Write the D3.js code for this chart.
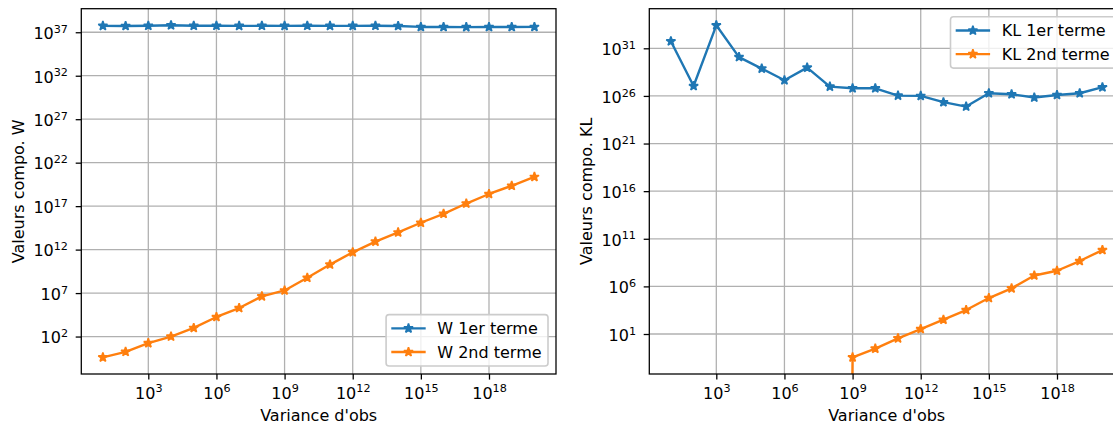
<!DOCTYPE html>
<html><head><meta charset="utf-8">
<script src="https://cdn.jsdelivr.net/npm/d3@7"></script>
<style>
body{margin:0;overflow:hidden;background:#fff}
svg{display:block}
text{font-family:"DejaVu Sans",sans-serif;fill:#000}
</style>
</head><body>
<svg id="chart" width="1113" height="426"></svg>
<script>
// ---------------- data ----------------
const obsVariance = [1e1,1e2,1e3,1e4,1e5,1e6,1e7,1e8,1e9,1e10,1e11,1e12,1e13,1e14,1e15,1e16,1e17,1e18,1e19,1e20];

const w1erTerme  = [5.4e37,5.3e37,5.6e37,6.3e37,5.6e37,5.5e37,5.4e37,5.5e37,5.4e37,5.5e37,
                    5.4e37,5.4e37,5.5e37,5.3e37,4.1e37,4.0e37,3.9e37,4.0e37,4.0e37,4.1e37];
const w2ndTerme  = [0.40,1.74,17.4,100,977,1.78e4,1.9e5,4.2e6,2.0e7,5.8e8,
                    1.9e10,4.9e11,8.3e12,9.5e13,1.23e15,1.32e16,2.0e17,2.5e18,2.2e19,2.3e20];

const kl1erTerme = [5.4e31,1.1e27,2.6e33,1.2e30,7.4e28,4.4e27,9.3e28,9.5e26,6.3e26,6.3e26,
                    1.07e26,1.0e26,2.2e25,7.6e24,1.9e26,1.5e26,6.8e25,1.26e26,1.9e26,8.1e26];
const kl2ndTerme = [0,0,0,0,0,0,0,0,0.035,0.29,
                    3.5,33,316,3.3e3,6.0e4,6.2e5,1.4e7,4.4e7,4.6e8,6.5e9];

const xTickExps  = [0,3,6,9,12,15,18,21];
const wTickExps  = [-3,2,7,12,17,22,27,32,37,42];
const klTickExps = [-4,1,6,11,16,21,26,31,36];

const wLabels  = ["W 1er terme","W 2nd terme"];
const klLabels = ["KL 1er terme","KL 2nd terme"];
const seriesColors = ["#1f77b4","#ff7f0e"];
const xLabel = "Variance d'obs";

// ---------------- drawing ----------------
const svg = d3.select("#chart");
const PT = 1.6;               // px per point
const FS = 16;                // font size px

function starPath(R){
  const pts=[];
  for(let i=0;i<10;i++){
    const a=-Math.PI/2+i*Math.PI/5, r=(i%2)?R*0.381966:R;
    pts.push([r*Math.cos(a), r*Math.sin(a)]);
  }
  return "M"+pts.map(p=>p[0].toFixed(3)+","+p[1].toFixed(3)).join("L")+"Z";
}
const STAR = starPath(3*PT);

function logDomain(vals){
  const l = vals.filter(v=>v>0).map(Math.log10);
  const lo=d3.min(l), hi=d3.max(l), m=(hi-lo)*0.05;
  return [Math.pow(10,lo-m), Math.pow(10,hi+m)];
}

function supLabel(sel, exp){
  sel.text(null);
  sel.append("tspan").text("10");
  sel.append("tspan").attr("dy",-6.2).attr("font-size",FS*0.7).text(String(exp));
}

function panel(cfg){
  const {left, top, width, height, series, labels, yTickExps, ylabel, ylabelX, idx} = cfg;
  const g = svg.append("g");
  const x = d3.scaleLog().domain(logDomain(obsVariance)).range([left, left+width]);
  const allY = series.flat();
  const y = d3.scaleLog().domain(logDomain(allY)).range([top+height, top]);

  const xt = xTickExps.map(e=>Math.pow(10,e)).filter(v=>v>=x.domain()[0]&&v<=x.domain()[1]);
  const yt = yTickExps.map(e=>Math.pow(10,e)).filter(v=>v>=y.domain()[0]&&v<=y.domain()[1]);

  // grid
  const grid = g.append("g").attr("stroke","#b0b0b0").attr("stroke-width",0.8*PT);
  xt.forEach(v=>grid.append("line").attr("x1",x(v)).attr("x2",x(v)).attr("y1",top).attr("y2",top+height));
  yt.forEach(v=>grid.append("line").attr("x1",left).attr("x2",left+width).attr("y1",y(v)).attr("y2",y(v)));

  // clip
  const cid = "clip"+idx;
  svg.append("defs").append("clipPath").attr("id",cid)
    .append("rect").attr("x",left).attr("y",top).attr("width",width).attr("height",height);
  const plot = g.append("g").attr("clip-path",`url(#${cid})`);

  const yy = v => v>0 ? y(v) : y(1e-300);
  series.forEach((s,i)=>{
    const pts = s.map((v,j)=>[x(obsVariance[j]), yy(v)]);
    plot.append("path").attr("d", d3.line()(pts))
      .attr("fill","none").attr("stroke",seriesColors[i]).attr("stroke-width",1.5*PT)
      .attr("stroke-linejoin","round").attr("stroke-linecap","square");
    plot.selectAll(null).data(pts).enter().append("path")
      .attr("d",STAR).attr("transform",d=>`translate(${d[0]},${d[1]})`)
      .attr("fill",seriesColors[i]).attr("stroke",seriesColors[i])
      .attr("stroke-width",1*PT).attr("stroke-linejoin","bevel");
  });

  // axes
  const ax = g.append("g").attr("transform",`translate(0,${top+height})`)
    .call(d3.axisBottom(x).tickValues(xt).tickSize(3.5*PT).tickPadding(0));
  const ay = g.append("g").attr("transform",`translate(${left},0)`)
    .call(d3.axisLeft(y).tickValues(yt).tickSize(3.5*PT).tickPadding(0));
  [ax,ay].forEach(a=>{
    a.select(".domain").remove();
    a.selectAll(".tick line").attr("stroke","#000").attr("stroke-width",0.8*PT);
    a.selectAll(".tick text").attr("font-size",FS).attr("font-family","DejaVu Sans").attr("fill","#000");
  });
  ax.selectAll(".tick text").attr("dy",null).attr("y",24.6).each(function(d){
    supLabel(d3.select(this), Math.round(Math.log10(d)));
  });
  ay.selectAll(".tick text").attr("dy",null).attr("x",-13.3).attr("y",6.3).each(function(d){
    supLabel(d3.select(this), Math.round(Math.log10(d)));
  });

  // spines
  g.append("rect").attr("x",left).attr("y",top).attr("width",width).attr("height",height)
    .attr("fill","none").attr("stroke","#000").attr("stroke-width",0.8*PT);

  // axis labels
  g.append("text").attr("x",left+width/2).attr("y",421).attr("text-anchor","middle")
    .attr("font-size",FS).text(xLabel);
  g.append("text").attr("transform",`translate(${ylabelX},${top+height/2}) rotate(-90)`)
    .attr("text-anchor","middle").attr("font-size",FS).text(ylabel);

  // legend
  const lg = g.append("g");
  const box = lg.append("rect").attr("rx",3).attr("ry",3)
    .attr("fill","#fff").attr("fill-opacity",0.8).attr("stroke","#cccccc").attr("stroke-width",1*PT);
  const texts = labels.map((lab,i)=>lg.append("text").attr("font-size",FS).text(lab));
  const tw = d3.max(texts, t=>t.node().getComputedTextLength());
  const pad=0.4*FS, hl=2*FS, htp=0.8*FS;
  const bw = pad+hl+htp+tw+pad, bh = 51.4;
  let bx, by;
  if(cfg.legendPos==="lower right"){ bx = left+width-0.5*FS-bw; by = top+height-0.5*FS-bh; }
  else { bx = left+width-0.5*FS-bw; by = top+0.5*FS; }
  box.attr("x",bx).attr("y",by).attr("width",bw).attr("height",bh);
  labels.forEach((lab,i)=>{
    const cy = by+13.8+i*23.6;
    lg.append("line").attr("x1",bx+pad).attr("x2",bx+pad+hl).attr("y1",cy).attr("y2",cy)
      .attr("stroke",seriesColors[i]).attr("stroke-width",1.5*PT).attr("stroke-linecap","square");
    lg.append("path").attr("d",STAR).attr("transform",`translate(${bx+pad+hl/2},${cy})`)
      .attr("fill",seriesColors[i]).attr("stroke",seriesColors[i]).attr("stroke-width",PT).attr("stroke-linejoin","bevel");
    texts[i].attr("x",bx+pad+hl+htp).attr("y",cy+5.8);
  });
}

panel({idx:0,left:81.3,top:8.7,width:474.7,height:365.3,series:[w1erTerme,w2ndTerme],labels:wLabels,
  yTickExps:wTickExps,ylabel:"Valeurs compo. W",ylabelX:23.5,legendPos:"lower right"});
panel({idx:1,left:649.3,top:8.7,width:474.7,height:365.3,series:[kl1erTerme,kl2ndTerme],labels:klLabels,
  yTickExps:klTickExps,ylabel:"Valeurs compo. KL",ylabelX:592,legendPos:"upper right"});
</script>
</body></html>
